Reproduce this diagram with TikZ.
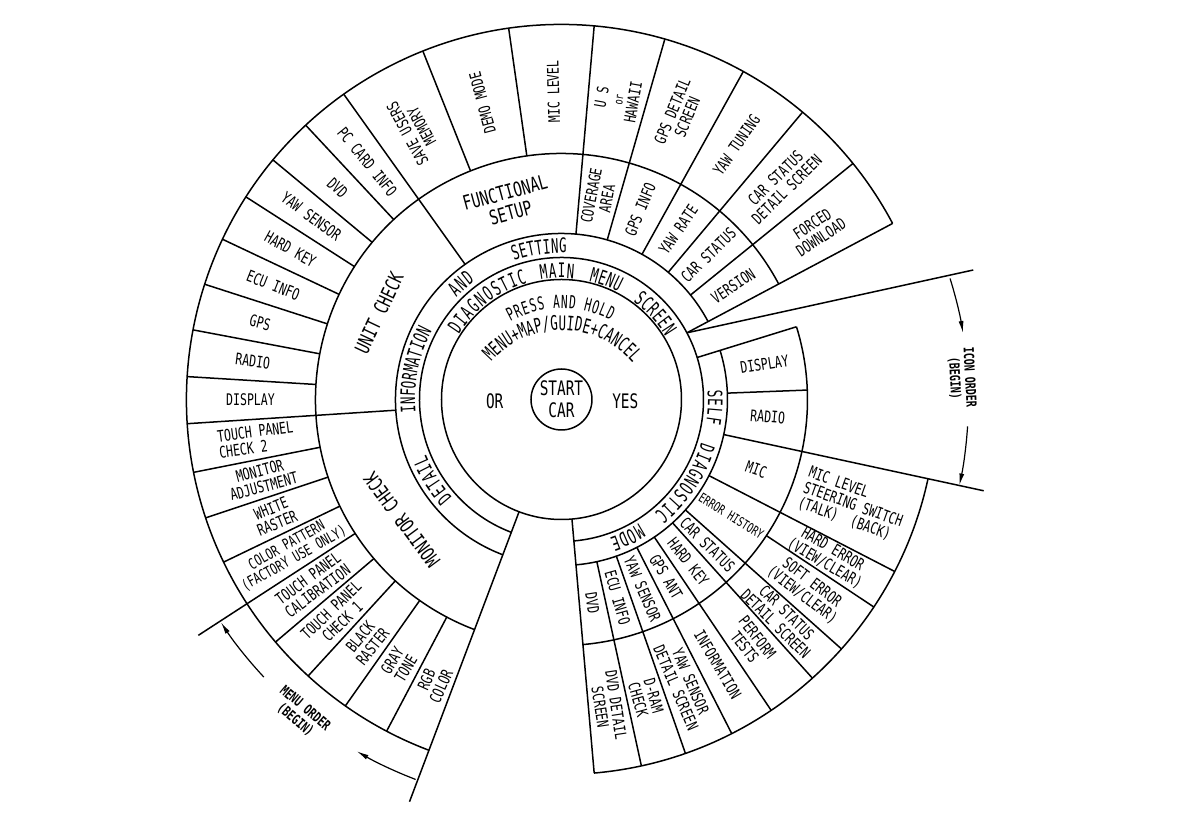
\documentclass[tikz,border=0pt]{standalone}
\usepackage{fontspec}
\setmainfont{DejaVu Sans Mono}[FakeStretch=0.72]
\newfontfamily\nfont{DejaVu Sans Mono}[FakeStretch=0.62]
\usetikzlibrary{arrows.meta}
% #1 cx, #2 cy, #3 baseline radius, #4 start angle, #5 end angle, #6 number of chars, #7 font size, #8 chars
\newcommand{\arcword}[8]{%
  \foreach \c [count=\i] in {#8} {%
    \pgfmathsetmacro{\ang}{#4-(\i-0.5)*(#4-#5)/#6}%
    \node[inner sep=0pt, anchor=base, font=\nfont\fontsize{#7}{#7}\selectfont, rotate=\ang-90] at ([shift={(#1,#2)}]\ang:#3) {\c};
  }}
\begin{document}
\begin{tikzpicture}[x=1pt,y=1pt,line width=1.5pt,
  cell/.style={font=\fontsize{16}{16}\selectfont, align=center, inner sep=0pt},
  big/.style={font=\fontsize{20}{21}\selectfont, align=center, inner sep=0pt},
  ord/.style={font=\bfseries\fontsize{14}{15}\selectfont, align=center, inner sep=0pt},
  arr/.style={-{Latex[length=12pt,width=5pt]}, line width=1.2pt}]
\fill[white] (-561.5,-426.5) rectangle (622.5,399.5);
\useasboundingbox (-561.5,-426.5) rectangle (622.5,399.5);

% circles and arcs
\draw (0,0) circle[radius=30.5pt];
\draw (0,0) circle[radius=120pt];
\draw (-85:142) arc[start angle=-85, end angle=249.3, radius=142pt];
\draw (28:166) arc[start angle=28, end angle=249.3, radius=166pt];
\draw (-85:166) arc[start angle=-85, end angle=17.2, radius=166pt];
\draw (28:246) arc[start angle=28, end angle=249.3, radius=246pt];
\draw (-85:246) arc[start angle=-85, end angle=17.2, radius=246pt];
\draw (28:375) arc[start angle=28, end angle=249.3, radius=375pt];
\draw (-85:375) arc[start angle=-85, end angle=-12.2, radius=375pt];

% radial lines
\foreach \a/\ri/\ro in {28/142/375, 39/166/375, 50/166/375, 61/166/375, 74/166/375, 85/166/375,
  98.1/246/375, 111.7/246/375, 125.5/166/375, 133/246/375, 140.3/246/375, 147.3/246/375,
  154.7/246/375, 162.1/246/375, 169.3/246/375, 176.5/246/375, 183.7/166/375, 191.2/246/375,
  198.4/246/375, 205.7/246/375, 213/246/433, 220.3/246/375, 227.5/246/375, 234.8/246/375,
  242.2/246/375, 249.3/120/430, -85/120/375, -77.7/166/375, -70.7/166/375, -63/166/375,
  -56/166/375, -48/166/375, -41.7/166/375, -33.6/246/375, -27.3/166/375, -12.2/166/432,
  2.2/166/246, 17.2/142/246}
  \draw (\a:\ri) -- (\a:\ro);

% icon order bracket line
\coordinate (iconA) at (28:142);
\coordinate (iconB) at (411.8,129.5);
\draw (iconA) -- (iconB);

% centre
\node[font=\fontsize{20}{22}\selectfont, align=center, inner sep=0pt] (start) at (0,0) {START\\CAR};
\node[font=\fontsize{20}{20}\selectfont, inner sep=0pt] (or) at (-66.8,-1.5) {OR};
\node[font=\fontsize{20}{20}\selectfont, inner sep=0pt] (yes) at (63.8,-1.5) {YES};

% arc texts
\arcword{0}{-15}{106}{119}{62}{14}{18}{P,R,E,S,S,{ },A,N,D,{ },H,O,L,D}
\arcword{0}{-23.6}{93}{139}{40}{21}{20}{M,E,N,U,+,M,A,P,/,G,U,I,D,E,+,C,A,N,C,E,L}
\arcword{0}{0}{121.5}{148}{106}{10}{20}{D,I,A,G,N,O,S,T,I,C}
\arcword{0}{0}{121.5}{100}{84}{4}{20}{M,A,I,N}
\arcword{0}{0}{121.5}{77}{62}{4}{20}{M,E,N,U}
\arcword{0}{0}{121.5}{54}{31}{6}{20}{S,C,R,E,E,N}
\arcword{0}{0}{146.5}{222}{202}{6}{20}{D,E,T,A,I,L}
\arcword{0}{0}{146.5}{185}{152}{11}{20}{I,N,F,O,R,M,A,T,I,O,N}
\arcword{0}{0}{146.5}{136}{126}{3}{20}{A,N,D}
\arcword{0}{0}{146.5}{109}{88}{7}{20}{S,E,T,T,I,N,G}
\arcword{0}{0}{146.5}{4}{-10}{4}{20}{S,E,L,F}
\arcword{0}{0}{146.5}{-17}{-51}{10}{20}{D,I,A,G,N,O,S,T,I,C}
\arcword{0}{0}{146.5}{-58}{-71}{4}{20}{M,O,D,E}

% top fan inner
\node[big,rotate=15.25] (fs) at (105.25:204) {FUNCTIONAL\\SETUP};
\node[cell,rotate=79.5] (cov) at (79.5:206) {COVERAGE\\AREA};
\node[cell,rotate=67.5] (gpsi) at (67.5:206) {GPS INFO};
\node[cell,rotate=55.5] (yr) at (55.5:206) {YAW RATE};
\node[cell,rotate=44.5] (cs) at (44.5:206) {CAR STATUS};
\node[cell,rotate=33.5] (ver) at (33.5:206) {VERSION};
% top fan outer
\node[cell,rotate=118.6] (save) at (118.6:307) {SAVE USERS\\MEMORY};
\node[cell,rotate=104.9] (demo) at (104.9:307) {DEMO MODE};
\node[cell,rotate=91.5] (micl) at (91.5:308) {MIC LEVEL};
\node[cell,rotate=80] (us) at (79.5:305) {U S\\{\fontsize{12}{12}\selectfont or}\\HAWAII};
\node[cell,rotate=67.5] (gpsd) at (67.5:309) {GPS DETAIL\\SCREEN};
\node[cell,rotate=55.5] (yt) at (55.5:309) {YAW TUNING};
\node[cell,rotate=44.5] (csd) at (44.5:308) {CAR STATUS\\DETAIL SCREEN};
\node[cell,rotate=33.5] (fd) at (33.5:306) {FORCED\\DOWNLOAD};

% unit check
\node[big,rotate=64.6] (uc) at (154.6:202) {UNIT CHECK};
\node[cell,rotate=-50.75] (pc) at (129.25:307) {PC CARD INFO};
\node[cell,rotate=-43.35] (dvd1) at (136.65:308) {DVD};
\node[cell,rotate=-36.2] (yaws1) at (143.8:310) {YAW SENSOR};
\node[cell,rotate=-29] (hk1) at (151:310) {HARD KEY};
\node[cell,rotate=-21.6] (ecu1) at (158.4:310) {ECU INFO};
\node[cell,rotate=-14.3] (gps1) at (165.7:311) {GPS};
\node[cell,rotate=-7.1] (rad1) at (172.9:311) {RADIO};
\node[cell] (disp1) at (180.1:311) {DISPLAY};

% monitor check
\node[big,rotate=126.5] (mc) at (217:200) {MONITOR CHECK};
\node[cell,rotate=7.45,align=left] (tp2) at (187.45:308) {TOUCH PANEL\\CHECK 2};
\node[cell,rotate=14.8] (madj) at (194.8:310) {MONITOR\\ADJUSTMENT};
\node[cell,rotate=22.05] (wr) at (202.05:310) {WHITE\\RASTER};
\node[cell,rotate=29.35,font=\fontsize{15}{15}\selectfont] (cp) at (209.35:311) {COLOR PATTERN\\(FACTORY USE ONLY)};
\node[cell,rotate=36.65] (tpc) at (216.65:310) {TOUCH PANEL\\CALIBRATION};
\node[cell,rotate=43.9] (tp1) at (223.9:312) {TOUCH PANEL\\CHECK 1};
\node[cell,rotate=51.15] (br) at (231.15:311) {BLACK\\RASTER};
\node[cell,rotate=58.5] (gt) at (238.5:311) {GRAY\\TONE};
\node[cell,rotate=65.75] (rgb) at (245.75:311) {RGB\\COLOR};

% self diagnostic
\node[cell,rotate=9] (disp2) at (9.8:206) {DISPLAY};
\node[cell,rotate=-5] (rad2) at (-4.8:207) {RADIO};
\node[cell,rotate=-19.75] (mic) at (-19.8:207) {MIC};
\node[cell,rotate=-19.75,align=left] (micl2) at (-19.9:310) {MIC LEVEL\\STEERING SWITCH\\(TALK)\ \ (BACK)};
\node[cell,rotate=-32,font=\fontsize{13}{13}\selectfont] (eh) at (-34.5:206) {ERROR HISTORY};
\node[cell,rotate=-44.85] (cs2) at (-44.85:206) {CAR STATUS};
\node[cell,rotate=-52] (hk2) at (-52:206) {HARD KEY};
\node[cell,rotate=-59.5] (gpsant) at (-59.5:206) {GPS ANT};
\node[cell,rotate=-66.85] (yaws2) at (-66.85:206) {YAW SENSOR};
\node[cell,rotate=-74.2] (ecu2) at (-74.2:206) {ECU INFO};
\node[cell,rotate=-81.35] (dvd2) at (-81.35:206) {DVD};
\node[cell,rotate=-30.45] (he) at (-30.45:310) {HARD ERROR\\(VIEW/CLEAR)};
\node[cell,rotate=-37.65] (se) at (-37.65:310) {SOFT ERROR\\(VIEW/CLEAR)};
\node[cell,rotate=-44.85] (csd2) at (-44.85:310) {CAR STATUS\\DETAIL SCREEN};
\node[cell,rotate=-52] (ptst) at (-52:308) {PERFORM\\TESTS};
\node[cell,rotate=-59.5] (info) at (-59.5:308) {INFORMATION};
\node[cell,rotate=-66.85] (ysd) at (-66.85:310) {YAW SENSOR\\DETAIL SCREEN};
\node[cell,rotate=-74.2] (dram) at (-74.2:310) {D-RAM\\CHECK};
\node[cell,rotate=-81.35] (dvdd) at (-81.35:310) {DVD DETAIL\\SCREEN};

% order markers
\node[ord,rotate=-87] (io) at (3.1:401) {ICON ORDER\\(BEGIN)};
\node[ord,rotate=-40] (mo) at (230.3:409) {MENU ORDER\\(BEGIN)};
\draw[arr] (17.3:407) arc[start angle=17.3, end angle=9.4, radius=407pt];
\draw[arr] (-3.8:407) arc[start angle=-3.8, end angle=-12.2, radius=407pt];
\draw[arr] (223:407) arc[start angle=223, end angle=213.2, radius=407pt];
\draw[arr] (249:407) arc[start angle=249, end angle=239.8, radius=407pt];
\end{tikzpicture}
\end{document}
